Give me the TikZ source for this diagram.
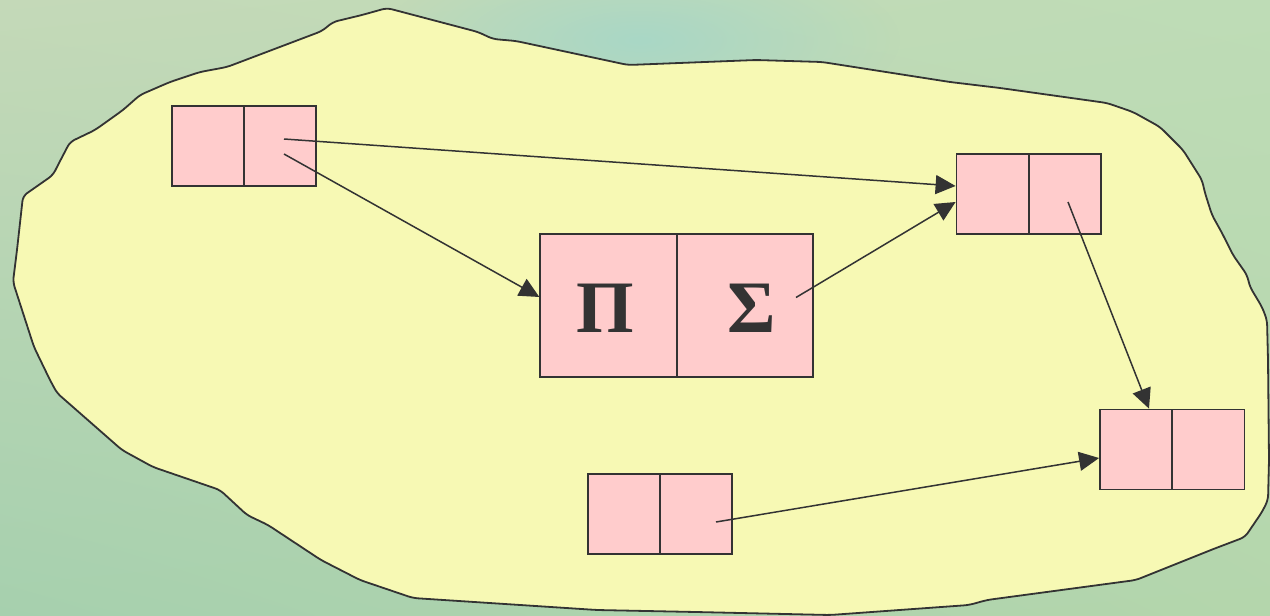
\documentclass[tikz,border=0pt]{standalone}
\usepackage{fontspec}
\setmainfont{Liberation Serif}
\usetikzlibrary{arrows.meta,calc,shadings,fadings}
\definecolor{lineC}{HTML}{333333}
\definecolor{pinkC}{HTML}{FFCCCC}
\definecolor{blobC}{HTML}{F7F9B4}
\definecolor{bgUL}{HTML}{C4D9B8}
\definecolor{bgUR}{HTML}{BEDCB6}
\definecolor{bgLL}{HTML}{A6D0AE}
\definecolor{bgLR}{HTML}{B4D6AC}
\definecolor{bgMid}{HTML}{A9D7C6}
\tikzfading[name=softglow, inner color=transparent!0, outer color=transparent!100]
\begin{document}
\begin{tikzpicture}[x=1pt,y=-1pt,
  cell/.style={draw=lineC, line width=1.8pt, fill=pinkC, inner sep=0pt, minimum height=80pt, minimum width=72pt},
  bigcell/.style={cell, minimum height=143pt, minimum width=136.5pt},
  conn/.style={draw=lineC, line width=1.5pt, -{Triangle[length=20pt,width=19pt]}},
  glyph/.style={text=lineC, font=\fontsize{74}{74}\selectfont\bfseries, inner sep=0pt}]
\useasboundingbox (0,0) rectangle (1270,616);
% background
\shade[upper left=bgUL, upper right=bgUR, lower left=bgLL, lower right=bgLR] (0,0) rectangle (1270,616);
\fill[bgMid, path fading=softglow] (640,40) ellipse (260 and 90);
% blob
\draw[draw=lineC, line width=1.8pt, fill=blobC, rounded corners=5pt]
 (387,8) -- (478,32) -- (493,39) -- (516,41) -- (628,65) -- (756,60) -- (822,62)
 -- (950,82) -- (1000,88) -- (1107,103) -- (1133,112) -- (1160,127) -- (1183,150)
 -- (1202,180) -- (1205,193) -- (1212,215) -- (1222,233) -- (1233,255) -- (1247,275)
 -- (1250,287) -- (1262,307) -- (1267,320) -- (1268,360) -- (1269,460) -- (1268,500)
 -- (1262,512) -- (1245,537) -- (1224,545) -- (1216,548) -- (1136,580) -- (987,600)
 -- (969,605) -- (830,615) -- (696,612) -- (597,610) -- (413,598) -- (360,580)
 -- (321,560) -- (268,525) -- (247,515) -- (220,490) -- (153,467) -- (122,450)
 -- (57,393) -- (50,380) -- (34,347) -- (13,282) -- (17,250) -- (23,196) -- (53,175)
 -- (58,165) -- (70,142) -- (95,130) -- (123,110) -- (140,95) -- (170,82) -- (200,72)
 -- (227,67) -- (322,31) -- (333,22) -- (362,15) -- cycle;
% boxes
\node[cell] (a1) at (208,146) {};
\node[cell] (a2) at (280,146) {};
\node[bigcell] (b1) at (608.5,305.5) {};
\node[bigcell] (b2) at (745,305.5) {};
\node[cell] (c1) at (992.5,194) {};
\node[cell] (c2) at (1065,194) {};
\node[cell] (d1) at (1136,449.5) {};
\node[cell] (d2) at (1208.5,449.5) {};
\node[cell] (e1) at (624,514) {};
\node[cell] (e2) at (696,514) {};
% glyphs
\node[glyph] (pi) at ($(b1.center)+(-3,3)$) {Π};
\node[glyph] (sigma) at ($(b2.center)+(7,3)$) {Σ};
% connector ends
\coordinate (a2s1) at ($(a2.center)+(4,-7)$);
\coordinate (a2s2) at ($(a2.center)+(4,8)$);
\coordinate (b2s) at ($(b2.center)+(51,-8)$);
\coordinate (c2s) at ($(c2.center)+(3,8)$);
\coordinate (e2s) at ($(e2.center)+(20,8)$);
\coordinate (c1t1) at ($(c1.west)+(0,-8)$);
\coordinate (c1t2) at ($(c1.west)+(0,8)$);
\coordinate (b1t) at ($(b1.west)+(0,-8.5)$);
\coordinate (d1t1) at ($(d1.north)+(13,0)$);
\coordinate (d1t2) at ($(d1.west)+(0,8.5)$);
% connectors
\draw[conn] (a2s1) -- (c1t1);
\draw[conn] (a2s2) -- (b1t);
\draw[conn] (b2s) -- (c1t2);
\draw[conn] (c2s) -- (d1t1);
\draw[conn] (e2s) -- (d1t2);
\end{tikzpicture}
\end{document}
